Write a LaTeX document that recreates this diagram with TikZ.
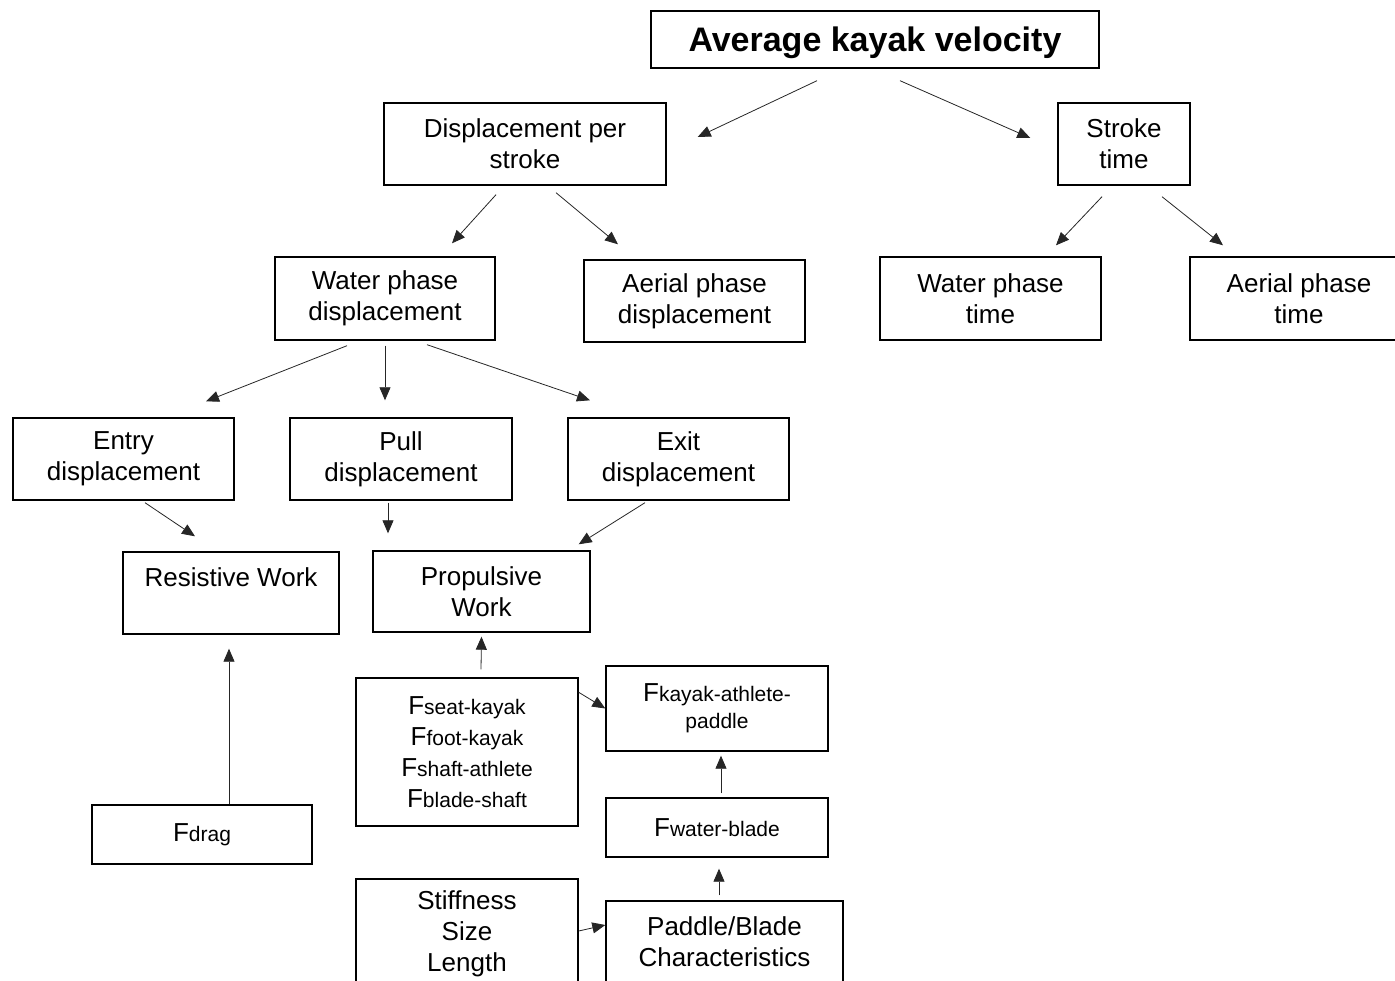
\documentclass[tikz,border=0pt]{standalone}
\usepackage{fontspec}
\setmainfont{Liberation Sans}
\usetikzlibrary{arrows.meta}
\newcommand{\force}[1]{{\fontsize{26}{31}\selectfont F}{\fontsize{21}{31}\selectfont #1}}

\begin{document}
\begin{tikzpicture}
  [x=1pt,y=-1pt,
   box/.style={draw,line width=1.4pt,rectangle,align=center,inner sep=0pt,
               font=\fontsize{26}{31}\selectfont},
   arr/.style={-{Triangle[length=13pt,width=11pt]},line width=0.8pt,draw=black!85}]
  \useasboundingbox (0,0) rectangle (1395,981);

  \node[box,minimum width=448pt,minimum height=57pt,text depth=0pt,
        font=\fontsize{34}{40}\selectfont\bfseries]
    (avg) at (875,39.5) {Average kayak velocity};
  \node[box,minimum width=282pt,minimum height=82pt] (disp)   at (525,144)    {Displacement per\\stroke};
  \node[box,minimum width=132pt,minimum height=82pt] (stroke) at (1124,144)   {Stroke\\time};
  \node[box,minimum width=220pt,minimum height=83pt] (water)  at (385,298.5)  {Water phase\\displacement};
  \node[box,minimum width=221pt,minimum height=82pt] (aerd)   at (694.5,301)  {Aerial phase\\displacement};
  \node[box,minimum width=221pt,minimum height=83pt] (wtime)  at (990.5,298.5){Water phase\\time};
  \node[box,minimum width=218pt,minimum height=83pt] (atime)  at (1299,298.5) {Aerial phase\\time};
  \node[box,minimum width=221pt,minimum height=82pt] (entry)  at (123.5,459)  {Entry\\displacement};
  \node[box,minimum width=222pt,minimum height=82pt] (pull)   at (401,459)    {Pull\\displacement};
  \node[box,minimum width=221pt,minimum height=82pt] (exit)   at (678.5,459)  {Exit\\displacement};
  \node[box,minimum width=216pt,minimum height=82pt] (res)    at (231,593)    {Resistive Work\\~};
  \node[box,minimum width=217pt,minimum height=81pt] (prop)   at (481.5,591.5){Propulsive\\Work};
  \node[box,minimum width=220pt,minimum height=59pt] (fdrag)  at (202,834.5)  {\force{drag}};
  \node[box,minimum width=222pt,minimum height=148pt] (forces) at (467,752)
    {\force{seat-kayak}\\\force{foot-kayak}\\\force{shaft-athlete}\\\force{blade-shaft}};
  \node[box,minimum width=222pt,minimum height=85pt] (fkap)   at (717,708.5)
    {\force{kayak-athlete-}\\[-4pt]{\fontsize{21}{31}\selectfont paddle}};
  \node[box,minimum width=222pt,minimum height=59pt] (fwb)    at (717,827.5)  {\force{water-blade}};
  \node[box,minimum width=222pt,minimum height=110pt] (stiff) at (467,934)    {Stiffness\\Size\\Length};
  \node[box,minimum width=237pt,minimum height=82pt] (pchar)  at (724.5,942)  {Paddle/Blade\\Characteristics};

  % top levels
  \draw[arr] ([xshift=-58,yshift=-12]avg.south) -- ([xshift=31,yshift=7]disp.east);
  \draw[arr] ([xshift=25,yshift=-12]avg.south) -- ([xshift=-27,yshift=6]stroke.west);
  \draw[arr] ([xshift=-29,yshift=-9]disp.south) -- ([xshift=67,yshift=13]water.north);
  \draw[arr] ([xshift=31,yshift=-7]disp.south) -- ([xshift=-76.5,yshift=15]aerd.north);
  \draw[arr] ([xshift=-22,yshift=-11]stroke.south) -- ([xshift=65.5,yshift=11]wtime.north);
  \draw[arr] ([xshift=38,yshift=-11]stroke.south) -- ([xshift=-76,yshift=11]atime.north);
  \draw[arr] ([xshift=-38,yshift=-5]water.south) -- ([xshift=82.5,yshift=16]entry.north);
  \draw[arr] ([yshift=-5]water.south) -- ([xshift=-16,yshift=17]pull.north);
  \draw[arr] ([xshift=42,yshift=-4]water.south) -- ([xshift=-88.5,yshift=17]exit.north);
  % work
  \draw[arr] ([xshift=21.5,yshift=-2]entry.south) -- ([xshift=-36,yshift=15]res.north);
  \draw[arr] ([xshift=-13,yshift=-2]pull.south) -- ([xshift=-93.5,yshift=17]prop.north);
  \draw[arr] ([xshift=-33.5,yshift=-2]exit.south) -- ([xshift=-12,yshift=6]prop.north east);
  % forces
  \draw[arr] ([xshift=27]fdrag.north) -- ([xshift=-2,yshift=-14]res.south);
  \draw[arr] ([xshift=14,yshift=8]forces.north) -- ([yshift=-4]prop.south);
  \draw[arr] ([yshift=-15]forces.north east) -- (fkap.west);
  \draw[arr] ([xshift=4,yshift=4]fwb.north) -- ([xshift=4,yshift=-4]fkap.south);
  \draw[arr] ([xshift=-5.5,yshift=5]pchar.north) -- ([xshift=2,yshift=-11]fwb.south);
  \draw[arr] ([yshift=3]stiff.east) -- ([yshift=17]pchar.west);
\end{tikzpicture}
\end{document}
